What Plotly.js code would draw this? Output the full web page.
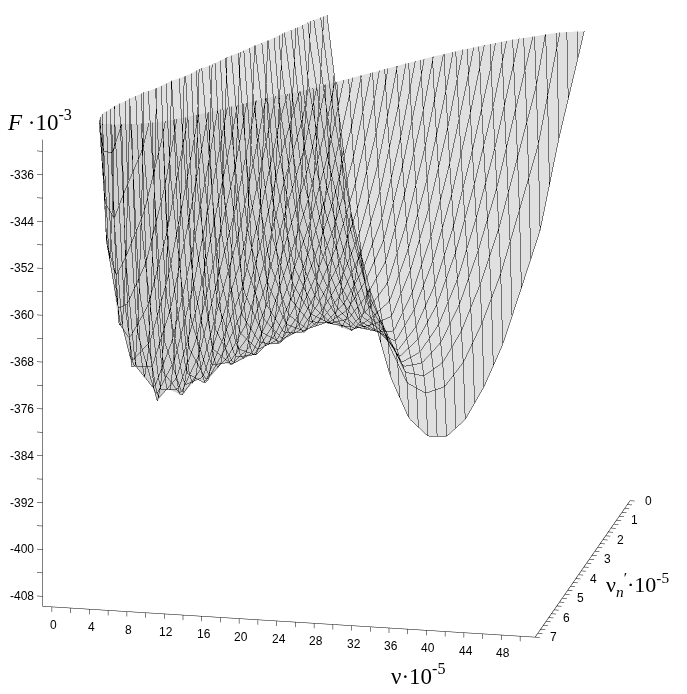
<!DOCTYPE html>
<html><head><meta charset="utf-8">
<script src="https://cdn.plot.ly/plotly-3.0.1.min.js"></script>
<style>html,body{margin:0;padding:0;background:#fff}#c{width:687px;height:694px}</style></head>
<body><div id="c"></div>
<script>
const nu = [0,2,3,4,5,6,8,10,12,14,16,18,20,22,24,26,28,30,32,34,36,38,40,42,44,46,48,50];
const nuPrime = [0,0.14,0.29,0.43,0.57,0.86,1.14,1.5,2,2.25,2.5,2.75,3,3.25,3.5,3.75,4,4.25,4.5,4.75,5,5.25,5.5,5.75,6,6.5,7];
const F = [
[-150,-150,-150,-150,-150,-150,-150,-150,-170,-200,-266,-313.7,-340,-366,-380,-391,-398,-400.8,-400.7,-397.6,-391.8,-384.4,-374.5,-364.5,-348.6,-334.9,-321,-305],
[-150,-150,-150,-150,-150,-150,-150,-150,-175,-210,-276,-320.5,-344.7,-363,-375.8,-385,-391.5,-393.1,-391.8,-387.5,-380.6,-372,-360.9,-349.7,-332.7,-317.8,-302,-285],
[-150,-150,-150,-150,-150,-150,-150,-150,-180,-220,-286,-327.4,-349.5,-364.4,-376,-382.5,-389.1,-389.5,-387,-381.4,-373.2,-363.4,-351,-338.6,-320.2,-306,-290,-270],
[-150,-150,-150,-150,-150,-150,-150,-150,-185,-230,-295.8,-333.4,-353.6,-366.5,-377,-381.5,-387.7,-386.9,-383.2,-376.5,-367.1,-356.1,-342.5,-328.9,-308,-292,-275,-255],
[-150,-150,-150,-150,-150,-150,-150,-150,-188,-240,-304.6,-339.1,-357.3,-369,-378.2,-381,-386.6,-384.6,-379.7,-371.8,-361.2,-349,-334.4,-319.6,-298,-280,-262,-240],
[-150,-150,-150,-150,-150,-150,-150,-160,-190,-265,-321.2,-349.5,-364,-373.3,-379,-380.5,-383.6,-379.2,-371.9,-361.6,-348.5,-333.9,-316.8,-299.6,-275,-258,-240,-220],
[-150,-150,-150,-150,-150,-150,-150,-165,-211,-289.6,-335.2,-358,-369.3,-376,-379,-379.5,-379.4,-372.6,-362.9,-350.2,-334.9,-317.9,-298.4,-270,-250,-235,-220,-200],
[-150,-150,-150,-150,-150,-150,-150,-170,-253,-317,-350.3,-366.8,-374,-377.5,-378.5,-375.5,-371.7,-361.9,-349.2,-333.5,-315.1,-295,-270,-240,-225,-210,-195,-180],
[-150,-150,-150,-150,-150,-150,-150,-207,-301.7,-346.8,-365.9,-374.6,-376.9,-375.6,-372,-366,-357.2,-343.2,-326.3,-306.4,-283.8,-260,-230,-210,-195,-180,-165,-150],
[-150,-150,-150,-150,-150,-150,-170,-243,-321.6,-358,-371.4,-376.7,-376.7,-373.1,-368,-360.3,-348.4,-332.3,-313.3,-291.3,-262,-240,-215,-200,-188,-175,-162,-150],
[-150,-150,-150,-150,-150,-150,-190,-275,-338.6,-366.9,-375.3,-377.6,-375.1,-369.4,-362.4,-352,-338.4,-320.2,-299,-265,-240,-220,-200,-190,-180,-170,-160,-150],
[-150,-150,-150,-150,-150,-160,-210,-302.4,-352.7,-373.4,-377.6,-377.1,-372,-364.5,-355.4,-343.3,-327.2,-306.9,-283,-245,-220,-205,-190,-180,-170,-160,-155,-150],
[-150,-150,-150,-150,-150,-170,-233,-326,-364,-377.5,-378.4,-374.9,-367.5,-358.6,-347.4,-333,-315,-292.6,-265,-220,-200,-190,-180,-170,-160,-150,-150,-150],
[-150,-150,-150,-150,-150,-195,-273,-345.4,-372.4,-379.2,-377.5,-371.1,-361.5,-351.5,-338.2,-322,-301.6,-277,-245,-210,-195,-185,-175,-165,-155,-150,-150,-150],
[-150,-150,-150,-150,-150,-220,-307.4,-360.6,-377.9,-378.6,-374.7,-365.7,-354,-343.2,-327.8,-309,-287,-260,-225,-200,-190,-180,-170,-160,-150,-150,-150,-150],
[-150,-150,-150,-150,-180,-250,-335,-371.7,-380.5,-376.3,-370,-358.6,-345,-333.9,-316.4,-296,-270,-243,-215,-195,-185,-175,-165,-155,-150,-150,-150,-150],
[-150,-150,-150,-150,-205,-278,-356.2,-378.7,-380.3,-372.2,-363.5,-349.8,-334.6,-323.4,-295,-281,-250,-225,-200,-190,-180,-170,-160,-150,-150,-150,-150,-150],
[-150,-150,-150,-185,-260,-317,-371,-381.6,-377.6,-366.2,-355,-339.4,-323,-313,-290,-270,-240,-210,-195,-185,-175,-165,-155,-150,-150,-150,-150,-150],
[-150,-150,-150,-217,-303.4,-346.3,-379.4,-380.7,-372.5,-358.5,-344.9,-327.6,-309,-290,-260,-240,-220,-200,-190,-180,-170,-160,-150,-150,-150,-150,-150,-150],
[-150,-150,-185,-275,-335.7,-365.4,-381.3,-376.7,-365,-348.9,-332.8,-313.7,-290,-270,-245,-225,-210,-195,-185,-175,-165,-155,-150,-150,-150,-150,-150,-150],
[-150,-150,-220,-317.5,-356.8,-374.5,-378.3,-369.7,-355.2,-337.6,-318.8,-298.6,-270,-250,-230,-210,-200,-190,-180,-170,-160,-150,-150,-150,-150,-150,-150,-150],
[-150,-180,-275,-344,-366.8,-374,-371,-359.5,-342.9,-324.4,-303,-280,-255,-235,-215,-200,-190,-180,-170,-160,-155,-150,-150,-150,-150,-150,-150,-150],
[-150,-200,-320,-355,-366,-366.3,-359.3,-346.3,-328.2,-309.5,-285,-260,-240,-220,-200,-190,-180,-170,-160,-150,-150,-150,-150,-150,-150,-150,-150,-150],
[-150,-200,-322,-351,-355.4,-351.6,-343.4,-330,-311,-293,-268,-245,-225,-210,-195,-185,-175,-165,-155,-150,-150,-150,-150,-150,-150,-150,-150,-150],
[-150,-200,-320,-334.8,-335,-330,-323,-310.6,-291.5,-274,-250,-230,-210,-200,-190,-180,-170,-160,-150,-150,-150,-150,-150,-150,-150,-150,-150,-150],
[-150,-200,-250,-264,-266,-265,-269.6,-262.6,-250,-240,-220,-200,-190,-180,-170,-160,-150,-150,-150,-150,-150,-150,-150,-150,-150,-150,-150,-150],
[-150,-170,-190,-190,-190,-190,-200,-200,-190,-180,-170,-160,-150,-150,-150,-150,-150,-150,-150,-150,-150,-150,-150,-150,-150,-150,-150,-150]
];
const nuTicks = [0,2,4,6,8,10,12,14,16,18,20,22,24,26,28,30,32,34,36,38,40,42,44,46,48,50];
const nuLabels = ['0','','4','','8','','12','','16','','20','','24','','28','','32','','36','','40','','44','','48',''];
const primeTicks = [0,.2,.4,.6,.8,1,1.2,1.4,1.6,1.8,2,2.2,2.4,2.6,2.8,3,3.2,3.4,3.6,3.8,4,4.2,4.4,4.6,4.8,5,5.2,5.4,5.6,5.8,6,6.2,6.4,6.6,6.8,7];
const primeLabels = ['0','','','','','1','','','','','2','','','','','3','','','','','4','','','','','5','','','','','6','','','','','7'];
const fTicks = [-408,-404,-400,-396,-392,-388,-384,-380,-376,-372,-368,-364,-360,-356,-352,-348,-344,-340,-336,-332];
const fLabels = ['-408','','-400','','-392','','-384','','-376','','-368','','-360','','-352','','-344','','-336',''];
const nuAxis = [-1,51.6], primeAxis = [7,0], fAxis = [-409.7,-330];
const nuRange = [-1.8,52.2], primeRange = [7,0], fRange = [-410.7,-330];
const tickFont = {family:'Liberation Sans, Arial, sans-serif', size:12, color:'#000'};
function axis(range){
  return {range:range, autorange:false, showticklabels:false, ticks:'', showgrid:false, zeroline:false,
    showbackground:false, showline:false, showspikes:false, title:{text:''}};
}
function label(x,y,z,text,xshift,yshift,xanchor){
  return {x:x,y:y,z:z,text:text,showarrow:false,font:tickFont,xanchor:xanchor,yanchor:'middle',xshift:xshift,yshift:yshift};
}
const tickAnn = [];
nuLabels.forEach((t,i)=>{ if(t) tickAnn.push(label(nuTicks[i],primeAxis[0],fAxis[0],t,2,-18,'center')); });
primeLabels.forEach((t,i)=>{ if(t) tickAnn.push(label(nuAxis[1],primeTicks[i],fAxis[0],t,18,0,'center')); });
fLabels.forEach((t,i)=>{ if(t) tickAnn.push(label(nuAxis[0],primeAxis[0],fTicks[i],t,-7,0,'right')); });
// axis lines and tick marks, placed by the scene's own scales
const ax = {x:[],y:[],z:[]};
function seg(a,b){ ax.x.push(a[0],b[0],null); ax.y.push(a[1],b[1],null); ax.z.push(a[2],b[2],null); }
seg([nuAxis[0],primeAxis[0],fAxis[0]],[nuAxis[1],primeAxis[0],fAxis[0]]);
seg([nuAxis[1],primeAxis[0],fAxis[0]],[nuAxis[1],primeAxis[1],fAxis[0]]);
seg([nuAxis[0],primeAxis[0],fAxis[0]],[nuAxis[0],primeAxis[0],fAxis[1]]);
nuTicks.forEach(v=>seg([v,primeAxis[0],fAxis[0]],[v,primeAxis[0],fAxis[0]-0.85]));
primeTicks.forEach(v=>seg([nuAxis[1],v,fAxis[0]],[nuAxis[1]+0.5,v,fAxis[0]]));
fTicks.forEach(v=>seg([nuAxis[0],primeAxis[0],v],[nuAxis[0]-0.6,primeAxis[0],v]));
const axesLines = {type:'scatter3d',mode:'lines',x:ax.x,y:ax.y,z:ax.z,line:{color:'#000',width:1},hoverinfo:'skip',showlegend:false,connectgaps:false};
const sheet = {type:'surface', x:nu, y:nuPrime, z:F, opacity:0.48, showscale:false, hoverinfo:'skip',
  colorscale:[[0,'#bebebe'],[1,'#bebebe']],
  lighting:{ambient:1,diffuse:0,specular:0,roughness:1,fresnel:0},
  contours:{
    x:{show:true,start:0,end:50,size:1,color:'#000',width:1,highlight:false},
    y:{show:true,start:0,end:7,size:0.142857,color:'#000',width:1,highlight:false},
    z:{show:false,highlight:false}
  }};
const serif = {family:'Liberation Serif, Times New Roman, serif', size:23, color:'#000'};
const layout = {width:687,height:694,margin:{l:0,r:0,t:0,b:0},paper_bgcolor:'#fff',showlegend:false,
  scene:{domain:{x:[0,1],y:[0,1]},aspectmode:'manual',aspectratio:{x:1.4886,y:1.338,z:1.4277},
    camera:{projection:{type:'orthographic'},up:{x:0,y:0,z:1},center:{x:0.024,y:0,z:-0.0709},eye:{x:0.303,y:-1.336,z:0.3585}},
    xaxis:axis(nuRange),
    yaxis:axis(primeRange),
    zaxis:axis(fRange),
    annotations:tickAnn},
  annotations:[
   {xref:'paper',yref:'paper',x:5/687,y:1-120/694,xanchor:'left',yanchor:'middle',showarrow:false,font:serif,text:'<i>F</i> ·10<sup>-3</sup>'},
   {xref:'paper',yref:'paper',x:389/687,y:1-674/694,xanchor:'left',yanchor:'middle',showarrow:false,font:serif,text:'ν·10<sup>-5</sup>'},
   {xref:'paper',yref:'paper',x:604/687,y:1-584/694,xanchor:'left',yanchor:'middle',showarrow:false,font:Object.assign({},serif,{size:22}),text:'ν<sub><i>n</i></sub><sup>′</sup>·10<sup>-5</sup>'}
  ]};
Plotly.newPlot('c',[sheet,axesLines],layout,{displayModeBar:false,scrollZoom:false});
</script></body></html>
